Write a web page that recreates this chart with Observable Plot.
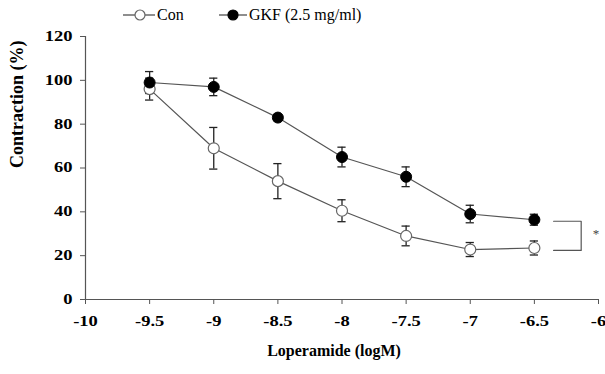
<!DOCTYPE html>
<html>
<head>
<meta charset="utf-8">
<script src="https://cdn.jsdelivr.net/npm/d3@7"></script>
<script src="https://cdn.jsdelivr.net/npm/@observablehq/plot@0.6"></script>
<style>
  html, body { margin: 0; padding: 0; background: #fff; }
  #wrap { position: relative; width: 605px; height: 374px; }
  #chart svg text { font-family: "Liberation Serif", "Times New Roman", serif !important; }
  #legend { position: absolute; left: 0; top: 0; width: 605px; height: 30px; font-family: "Liberation Serif", "Times New Roman", serif; font-size: 16px; color: #000; }
  .item { position: absolute; top: 4px; display: flex; align-items: center; height: 22px; }
  .item svg { display: block; }
</style>
</head>
<body>
<div id="wrap">
  <div id="chart"></div>
  <div id="legend"></div>
</div>
<script>
// ---- data ----
const doses = [-9.5, -9, -8.5, -8, -7.5, -7, -6.5];
const conMean = [96, 69, 54, 40.5, 29, 22.8, 23.5];
const conErr  = [5, 9.5, 8, 5, 4.5, 3.2, 3.2];
const gkfMean = [99, 97, 83, 65, 56, 39, 36.4];
const gkfErr  = [5, 4, 1.5, 4.5, 4.5, 4, 2.5];
const seriesNames = ["Con", "GKF (2.5 mg/ml)"];
const xTicks = [-10, -9.5, -9, -8.5, -8, -7.5, -7, -6.5, -6];
const xTickLabels = ["-10", "-9.5", "-9", "-8.5", "-8", "-7.5", "-7", "-6.5", "-6"];
const yTicks = [0, 20, 40, 60, 80, 100, 120];
const yTickLabels = ["0", "20", "40", "60", "80", "100", "120"];
const xTitle = "Loperamide (logM)";
const yTitle = "Contraction (%)";
// significance bracket between the last points
const bracketX = [-6.35, -6.135];
const bracketY = [35.7, 22.4];
const starPos = [-6.02, 30];
const starLabel = "*";

// ---- build table ----
const rows = [];
doses.forEach((d, i) => {
  rows.push({series: seriesNames[0], x: d, y: conMean[i], e: conErr[i]});
});
doses.forEach((d, i) => {
  rows.push({series: seriesNames[1], x: d, y: gkfMean[i], e: gkfErr[i]});
});
const conRows = rows.filter(r => r.series === seriesNames[0]);
const gkfRows = rows.filter(r => r.series === seriesNames[1]);
const capHalf = 0.032;
const bracketPts = [
  {x: bracketX[0], y: bracketY[0]},
  {x: bracketX[1], y: bracketY[0]},
  {x: bracketX[1], y: bracketY[1]},
  {x: bracketX[0], y: bracketY[1]}
];

const axisColor = "#555";
const lineColor = "#555";

const chart = Plot.plot({
  width: 605,
  height: 374,
  marginTop: 36,
  marginBottom: 75,
  marginLeft: 85,
  marginRight: 7,
  style: {background: "#fff", color: "#000", overflow: "visible"},
  x: {domain: [-10, -6]},
  y: {domain: [0, 120]},
  marks: [
    Plot.ruleY([0], {stroke: axisColor, strokeWidth: 1.2}),
    Plot.ruleX([-10], {y1: 0, y2: 120, stroke: axisColor, strokeWidth: 1.2}),
    Plot.axisX({ticks: xTicks, tickFormat: (d, i) => xTickLabels[i], tickSize: 5, tickPadding: 12,
      stroke: axisColor, fill: "#000", fontSize: 14, fontWeight: "bold", label: null}),
    Plot.axisY({ticks: yTicks, tickFormat: (d, i) => yTickLabels[i], tickSize: 5, tickPadding: 8,
      stroke: axisColor, fill: "#000", fontSize: 14, fontWeight: "bold", label: null}),
    // connecting lines
    Plot.line(conRows, {x: "x", y: "y", stroke: lineColor, strokeWidth: 1.2}),
    Plot.line(gkfRows, {x: "x", y: "y", stroke: lineColor, strokeWidth: 1.2}),
    // error bars
    Plot.ruleX(rows, {x: "x", y1: d => d.y - d.e, y2: d => d.y + d.e, stroke: "#222", strokeWidth: 1.3}),
    Plot.ruleY(rows, {y: d => d.y + d.e, x1: d => d.x - capHalf, x2: d => d.x + capHalf, stroke: "#222", strokeWidth: 1.3}),
    Plot.ruleY(rows, {y: d => d.y - d.e, x1: d => d.x - capHalf, x2: d => d.x + capHalf, stroke: "#222", strokeWidth: 1.3}),
    // markers
    Plot.dot(conRows, {x: "x", y: "y", r: 5.5, fill: "#fff", stroke: "#666", strokeWidth: 1.2}),
    Plot.dot(gkfRows, {x: "x", y: "y", r: 5.5, fill: "#000", stroke: "#000", strokeWidth: 1}),
    // significance bracket
    Plot.line(bracketPts, {x: "x", y: "y", stroke: "#555", strokeWidth: 1.2}),
    Plot.text([starLabel], {x: () => starPos[0], y: () => starPos[1], text: d => d, fontSize: 13, fill: "#444"}),
    // axis titles
    Plot.text([yTitle], {frameAnchor: "left", dx: -68, rotate: -90, text: d => d, fontSize: 18, fontWeight: "bold", fill: "#000"}),
    Plot.text([xTitle], {frameAnchor: "bottom", dy: 56, dx: -8, text: d => d, fontSize: 16, fontWeight: "bold", fill: "#000"})
  ]
});
document.getElementById("chart").appendChild(chart);

// the reference's tick labels are horizontally widened: stretch glyphs a little
chart.querySelectorAll('g[aria-label$="tick label"] text').forEach(t => {
  const len = t.getComputedTextLength();
  t.setAttribute("textLength", (len * 1.32).toFixed(2));
  t.setAttribute("lengthAdjust", "spacingAndGlyphs");
});

// ---- legend (HTML, above the chart) ----
const legend = d3.select("#legend");
const items = [
  {name: seriesNames[0], left: 123, w: 32, cx: 17, fill: "#fff", stroke: "#666"},
  {name: seriesNames[1], left: 219, w: 28, cx: 14, fill: "#000", stroke: "#000"}
];
items.forEach(it => {
  const div = legend.append("div").attr("class", "item").style("left", it.left + "px");
  const s = div.append("svg").attr("width", it.w).attr("height", 14);
  s.append("line").attr("x1", 0).attr("x2", it.w).attr("y1", 7).attr("y2", 7).attr("stroke", "#444").attr("stroke-width", 1.2);
  s.append("circle").attr("cx", it.cx).attr("cy", 7).attr("r", 5).attr("fill", it.fill).attr("stroke", it.stroke).attr("stroke-width", 1.2);
  div.append("span").style("margin-left", "2px").text(it.name);
});
</script>
</body>
</html>
